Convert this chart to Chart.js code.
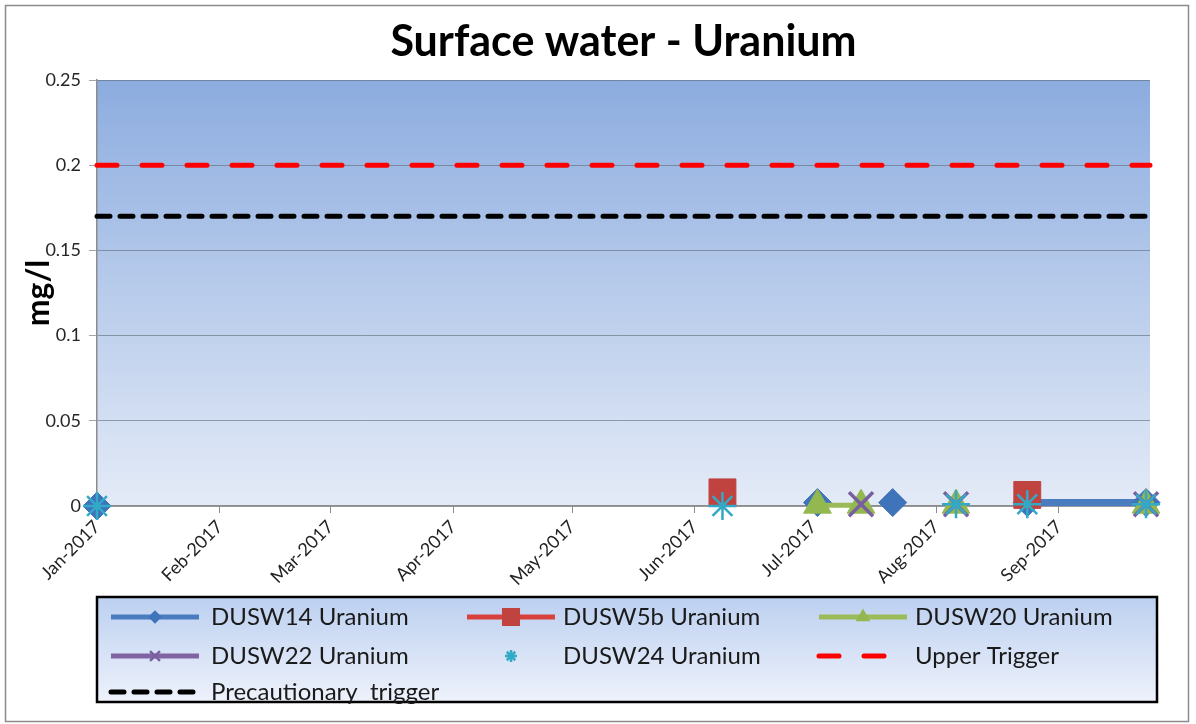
<!DOCTYPE html>
<html>
<head>
<meta charset="utf-8">
<title>Surface water - Uranium</title>
<script src="https://cdn.jsdelivr.net/npm/chart.js@4"></script>
<style>
    html, body { margin: 0; padding: 0; background: #fff; }
</style>
</head>
<body>
<canvas id="chart" width="1196" height="724"></canvas>
<script>
// Days since 1 Jan 2017
const monthDays = [0, 31, 59, 90, 120, 151, 181, 212, 243];
const monthLabels = ['Jan-2017', 'Feb-2017', 'Mar-2017', 'Apr-2017', 'May-2017', 'Jun-2017', 'Jul-2017', 'Aug-2017', 'Sep-2017'];
const yTickValues = [0, 0.05, 0.1, 0.15, 0.2, 0.25];
const yTickLabels = ['0', '0.05', '0.1', '0.15', '0.2', '0.25'];

// Sampling dates and results (mg/l), null = not sampled
const sampleDays = [0, 158, 182, 193, 201, 217, 235, 265];
const dusw14 = [0, null, 0.002, null, 0.002, null, 0.002, 0.002];
const dusw5b = [null, 0.008, null, null, null, null, 0.0065, null];
const dusw20 = [null, null, 0.0005, 0.0005, null, 0.0005, null, 0.0005];
const dusw22 = [null, null, null, 0.001, null, 0.001, null, 0.001];
const dusw24 = [0, 0, null, null, null, 0.001, 0.001, 0.001];

const triggerDays = [0, 266];
const upperTrigger = [0.2, 0.2];
const precautionaryTrigger = [0.17, 0.17];

const FONT = 'Lato, "Open Sans", sans-serif';

function points(days, values) {
    return days.map((d, i) => ({ x: d, y: values[i] }));
}

// Fond, cadre et dégradé de la zone de tracé
const backgroundPlugin = {
    id: 'backgroundPlugin',
    beforeDraw(chart) {
        const ctx = chart.ctx;
        const area = chart.chartArea;
        ctx.save();
        ctx.fillStyle = '#ffffff';
        ctx.fillRect(0, 0, chart.width, chart.height);
        ctx.strokeStyle = '#8c8c8c';
        ctx.lineWidth = 1.5;
        ctx.strokeRect(5.5, 5.5, 1183, 716);
        const grad = ctx.createLinearGradient(0, area.top, 0, area.bottom);
        grad.addColorStop(0, 'rgb(140,172,223)');
        grad.addColorStop(1, 'rgb(228,235,247)');
        ctx.fillStyle = grad;
        ctx.fillRect(area.left, area.top, area.right - area.left, area.bottom - area.top);
        ctx.restore();
    }
};

// Légende dans un cadre, en trois colonnes
const boxLegendPlugin = {
    id: 'boxLegendPlugin',
    afterDraw(chart) {
        const ctx = chart.ctx;
        const box = { left: 97, top: 597, right: 1157, bottom: 702 };
        const colLine = [111, 467, 819];
        const colText = [211, 563, 915];
        const rows = [617, 656, 692];

        ctx.save();
        const grad = ctx.createLinearGradient(0, box.top, 0, box.bottom);
        grad.addColorStop(0, 'rgb(188,208,240)');
        grad.addColorStop(1, 'rgb(238,242,251)');
        ctx.fillStyle = grad;
        ctx.fillRect(box.left, box.top, box.right - box.left, box.bottom - box.top);
        ctx.strokeStyle = '#000';
        ctx.lineWidth = 2.5;
        ctx.strokeRect(box.left, box.top, box.right - box.left, box.bottom - box.top);

        chart.data.datasets.forEach((ds, i) => {
            const col = i % 3;
            const row = Math.floor(i / 3);
            const x0 = colLine[col];
            const x1 = x0 + (ds.legendLength || 88);
            const y = rows[row];

            if (ds.showLine !== false) {
                ctx.save();
                ctx.strokeStyle = ds.borderColor;
                ctx.lineWidth = 5;
                ctx.lineCap = ds.borderCapStyle || 'butt';
                ctx.setLineDash(ds.borderDash || []);
                ctx.beginPath();
                ctx.moveTo(x0, y);
                ctx.lineTo(x1, y);
                ctx.stroke();
                ctx.restore();
            }
            if (ds.pointRadius > 0) {
                ctx.fillStyle = ds.pointBackgroundColor;
                ctx.strokeStyle = ds.pointBorderColor;
                Chart.helpers.drawPoint(ctx, {
                    pointStyle: ds.pointStyle,
                    radius: ds.legendRadius,
                    rotation: 0,
                    borderWidth: ds.pointBorderWidth
                }, x0 + 44, y);
            }
            ctx.fillStyle = '#1a1a1a';
            ctx.font = '24px ' + FONT;
            ctx.textBaseline = 'middle';
            ctx.textAlign = 'left';
            ctx.fillText(ds.label, colText[col], y);
        });
        ctx.restore();
    }
};

const ctx = document.getElementById('chart').getContext('2d');

const chart = new Chart(ctx, {
    type: 'line',
    data: {
        datasets: [{
            label: 'DUSW14 Uranium',
            data: points(sampleDays, dusw14),
            borderColor: '#4A7CC0',
            borderWidth: 7,
            pointStyle: 'rectRot',
            pointRadius: 14,
            pointBackgroundColor: '#3F73BA',
            pointBorderColor: '#3F73BA',
            pointBorderWidth: 1,
            legendRadius: 5,
            order: 4
        }, {
            label: 'DUSW5b Uranium',
            data: points(sampleDays, dusw5b),
            borderColor: '#D9413C',
            borderWidth: 5,
            pointStyle: 'rect',
            pointRadius: 19,
            pointBackgroundColor: '#C0433F',
            pointBorderColor: '#C0433F',
            pointBorderWidth: 1,
            legendRadius: 11,
            order: 3
        }, {
            label: 'DUSW20 Uranium',
            data: points(sampleDays, dusw20),
            borderColor: '#9BBB59',
            borderWidth: 5,
            pointStyle: 'triangle',
            pointRadius: 16,
            pointBackgroundColor: '#92B84F',
            pointBorderColor: '#92B84F',
            pointBorderWidth: 1,
            legendRadius: 6,
            order: 2
        }, {
            label: 'DUSW22 Uranium',
            data: points(sampleDays, dusw22),
            borderColor: '#8064A2',
            borderWidth: 5,
            pointStyle: 'crossRot',
            pointRadius: 17,
            pointBackgroundColor: '#7A5FA0',
            pointBorderColor: '#7A5FA0',
            pointBorderWidth: 3.5,
            legendRadius: 7,
            order: 1
        }, {
            label: 'DUSW24 Uranium',
            data: points(sampleDays, dusw24),
            showLine: false,
            borderColor: '#33A9C8',
            pointStyle: 'star',
            pointRadius: 14,
            pointBackgroundColor: '#33A9C8',
            pointBorderColor: '#33A9C8',
            pointBorderWidth: 2.5,
            legendRadius: 6,
            order: 0
        }, {
            label: 'Upper Trigger',
            data: points(triggerDays, upperTrigger),
            borderColor: '#FF0000',
            borderWidth: 5,
            borderDash: [20, 25],
            borderCapStyle: 'round',
            pointRadius: 0,
            legendLength: 72,
            order: 5
        }, {
            label: 'Precautionary  trigger',
            data: points(triggerDays, precautionaryTrigger),
            borderColor: '#000000',
            borderWidth: 5,
            borderDash: [13, 10],
            borderCapStyle: 'round',
            pointRadius: 0,
            legendLength: 86,
            order: 6
        }]
    },
    options: {
        responsive: false,
        animation: false,
        devicePixelRatio: 1,
        clip: false,
        spanGaps: false,
        layout: {
            padding: { left: 10, right: 46, top: 0, bottom: 128 }
        },
        plugins: {
            legend: { display: false },
            tooltip: { enabled: false },
            title: {
                display: true,
                fullSize: false,
                text: 'Surface water - Uranium',
                color: '#000',
                font: { family: FONT, size: 43, weight: 'bold' },
                padding: { top: 16, bottom: 12.4 }
            }
        },
        scales: {
            x: {
                type: 'linear',
                min: 0,
                max: 266,
                afterBuildTicks: scale => {
                    scale.ticks = monthDays.map(v => ({ value: v }));
                },
                afterFit: scale => {
                    scale.height = 90;
                },
                ticks: {
                    autoSkip: false,
                    minRotation: 45,
                    maxRotation: 45,
                    padding: 3,
                    color: '#222',
                    font: { family: FONT, size: 18 },
                    callback: (value, index) => monthLabels[index]
                },
                grid: {
                    drawOnChartArea: false,
                    tickLength: 7,
                    color: '#8c8c8c'
                },
                border: { color: '#8c8c8c', width: 1.5 }
            },
            y: {
                min: 0,
                max: 0.25,
                afterBuildTicks: scale => {
                    scale.ticks = yTickValues.map(v => ({ value: v }));
                },
                afterFit: scale => {
                    scale.width = 87;
                },
                ticks: {
                    padding: 8,
                    color: '#262626',
                    font: { family: FONT, size: 18 },
                    callback: (value, index) => yTickLabels[index]
                },
                grid: {
                    color: 'rgba(95,105,120,0.6)',
                    tickLength: 8
                },
                border: { color: '#8c8c8c', width: 1.5 },
                title: {
                    display: true,
                    text: 'mg/l',
                    color: '#000',
                    font: { family: FONT, size: 32, weight: 'bold' },
                    padding: { top: 9, bottom: 0 }
                }
            }
        }
    },
    plugins: [backgroundPlugin, boxLegendPlugin]
});
</script>
</body>
</html>
